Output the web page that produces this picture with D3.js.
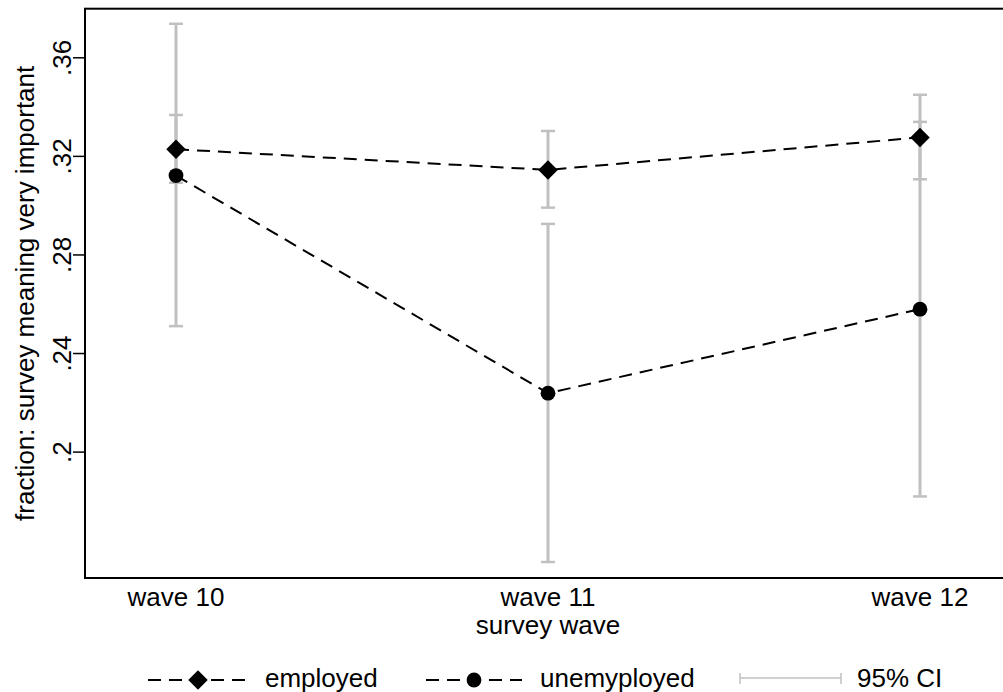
<!DOCTYPE html>
<html>
<head>
<meta charset="utf-8">
<script src="https://cdn.jsdelivr.net/npm/d3@7"></script>
<style>
  html, body { margin: 0; padding: 0; background: #fff; }
  svg { display: block; font-family: "Liberation Sans", Arial, sans-serif; }
</style>
</head>
<body>
<svg id="chart" width="1003" height="692"></svg>
<script>
// values
const waves = [10, 11, 12];
const waveLabels = ["wave 10", "wave 11", "wave 12"];
const yTicks = [0.2, 0.24, 0.28, 0.32, 0.36];

const employed = [0.3227, 0.3143, 0.3275];
const employedLo = [0.3091, 0.2990, 0.3105];
const employedHi = [0.3366, 0.3301, 0.3448];

const unemployed = [0.3120, 0.2237, 0.2578];
const unemployedLo = [0.2509, 0.1552, 0.1818];
const unemployedHi = [0.3736, 0.2924, 0.3338];

const legendItems = ["employed", "unemyployed", "95% CI"];

const CI_GREY = "#c0c0c0";
const FONT = 26;

const svg = d3.select("#chart");

const box = { left: 85, top: 8.7, bottom: 578, right: 1012 };

const x = d3.scaleLinear().domain([10, 12]).range([176, 920]);
const y = d3.scaleLinear().domain([0.2, 0.36]).range([451.6, 57.3]);

// plot frame (right side falls off the canvas like in the original)
svg.append("rect")
  .attr("x", box.left).attr("y", box.top)
  .attr("width", box.right - box.left).attr("height", box.bottom - box.top)
  .attr("fill", "none").attr("stroke", "#000").attr("stroke-width", 2);

// y axis
const yAxis = svg.append("g")
  .attr("transform", `translate(${box.left},0)`)
  .call(d3.axisLeft(y).tickValues(yTicks).tickSize(12).tickSizeOuter(0)
    .tickFormat(d => d3.format(".2~f")(d).replace(/^0/, "")));
yAxis.select(".domain").remove();
yAxis.selectAll(".tick line").attr("stroke", "#000").attr("stroke-width", 1.5);
yAxis.selectAll(".tick text")
  .attr("transform", "rotate(-90)")
  .attr("x", 0).attr("y", -14).attr("dy", 0)
  .style("text-anchor", "middle")
  .style("font-size", FONT + "px")
  .attr("fill", "#000");

// x labels (no ticks)
svg.append("g").selectAll("text")
  .data(waves)
  .join("text")
  .attr("x", d => x(d))
  .attr("y", 606)
  .attr("text-anchor", "middle")
  .style("font-size", FONT + "px")
  .text((d, i) => waveLabels[i]);

svg.append("text")
  .attr("x", x(11)).attr("y", 634)
  .attr("text-anchor", "middle")
  .style("font-size", FONT + "px")
  .text("survey wave");

svg.append("text")
  .attr("transform", `translate(33.5,${(box.top + box.bottom) / 2}) rotate(-90)`)
  .attr("text-anchor", "middle")
  .style("font-size", FONT + "px")
  .text("fraction: survey meaning very important");

// confidence intervals
function drawCI(lo, hi) {
  const g = svg.append("g").attr("stroke", CI_GREY).attr("fill", "none");
  g.selectAll("line.bar").data(waves).join("line").attr("class", "bar")
    .attr("x1", d => x(d)).attr("x2", d => x(d))
    .attr("y1", (d, i) => y(lo[i])).attr("y2", (d, i) => y(hi[i]))
    .attr("stroke-width", 3);
  ["lo", "hi"].forEach(k => {
    const arr = k === "lo" ? lo : hi;
    g.selectAll("line.cap" + k).data(waves).join("line").attr("class", "cap" + k)
      .attr("x1", d => x(d) - 7).attr("x2", d => x(d) + 7)
      .attr("y1", (d, i) => y(arr[i])).attr("y2", (d, i) => y(arr[i]))
      .attr("stroke-width", 2.5);
  });
}
drawCI(employedLo, employedHi);
drawCI(unemployedLo, unemployedHi);

// dashed series lines
const line = d3.line().x(d => x(d[0])).y(d => y(d[1]));
[employed, unemployed].forEach(vals => {
  svg.append("path")
    .datum(waves.map((w, i) => [w, vals[i]]))
    .attr("d", line)
    .attr("fill", "none").attr("stroke", "#000")
    .attr("stroke-width", 2).attr("stroke-dasharray", "13,8");
});

// markers
const diamond = d3.symbol().type(d3.symbolSquare).size(190);
svg.append("g").selectAll("path")
  .data(waves)
  .join("path")
  .attr("d", diamond)
  .attr("transform", (d, i) => `translate(${x(d)},${y(employed[i])}) rotate(45)`)
  .attr("fill", "#000");

svg.append("g").selectAll("circle")
  .data(waves)
  .join("circle")
  .attr("cx", d => x(d))
  .attr("cy", (d, i) => y(unemployed[i]))
  .attr("r", 7.4)
  .attr("fill", "#000");

// legend
const legY = 680;
const lg = svg.append("g");
[[148, 248], [426, 522]].forEach(([a, b], i) => {
  lg.append("line")
    .attr("x1", a).attr("x2", b).attr("y1", legY).attr("y2", legY)
    .attr("stroke", "#000").attr("stroke-width", 2).attr("stroke-dasharray", "13,8");
  const c = (a + b) / 2;
  if (i === 0) {
    lg.append("path").attr("d", diamond)
      .attr("transform", `translate(${c},${legY}) rotate(45)`).attr("fill", "#000");
  } else {
    lg.append("circle").attr("cx", c).attr("cy", legY).attr("r", 7.4).attr("fill", "#000");
  }
});
lg.append("line").attr("x1", 740).attr("x2", 841).attr("y1", 678).attr("y2", 678)
  .attr("stroke", CI_GREY).attr("stroke-width", 1.5);
[740, 841].forEach(px => {
  lg.append("line").attr("x1", px).attr("x2", px).attr("y1", 673).attr("y2", 684)
    .attr("stroke", CI_GREY).attr("stroke-width", 1.5);
});
lg.selectAll("text")
  .data(legendItems)
  .join("text")
  .attr("x", (d, i) => [265, 540, 857][i])
  .attr("y", 687)
  .style("font-size", FONT + "px")
  .text(d => d);
</script>
</body>
</html>
